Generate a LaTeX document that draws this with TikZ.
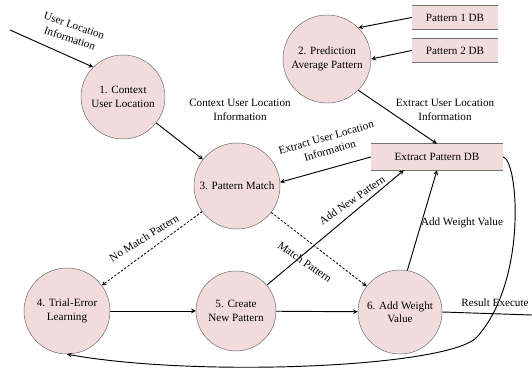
\documentclass[tikz,border=0pt]{standalone}
\usepackage{fontspec}
\setmainfont{Liberation Serif}
\usetikzlibrary{calc}
\definecolor{procpink}{HTML}{F2DCDB}

\begin{document}
\begin{tikzpicture}[x=0.03cm, y=-0.03cm, font=\fontsize{9.5}{11.5}\selectfont,
  proc/.style={circle, draw=black!60, thin, fill=procpink, align=center,
    inner sep=1pt, minimum size=2.52cm},
  store/.style={rectangle, fill=procpink, inner sep=2pt, minimum height=0.69cm},
  flow/.style={-stealth, line width=0.8pt},
  maybe/.style={-stealth, line width=0.7pt, dash pattern=on 2pt off 1.5pt},
  lbl/.style={align=center, inner sep=1pt}]
\useasboundingbox (0,0) rectangle (532,371);

% processes
\node [proc] (c1) at (123,97) {1. Context\\User Location};
\node [proc, minimum size=2.64cm] (c2) at (327,59) {2. Prediction\\Average Pattern};
\node [proc, minimum size=2.58cm] (c3) at (237,186) {3. Pattern Match};
\node [proc, minimum size=2.58cm] (c4) at (67,311) {4. Trial-Error\\Learning};
\node [proc, minimum size=2.4cm] (c5) at (236,311) {5. Create\\New Pattern};
\node [proc] (c6) at (400,312) {6. Add Weight\\Value};

% data stores
\node [store, minimum width=2.58cm] (p1) at (455,17.5) {Pattern 1 DB};
\node [store, minimum width=2.58cm] (p2) at (455,50.5) {Pattern 2 DB};
\node [store, minimum width=3.96cm, minimum height=0.78cm] (epdb) at (437,157) {Extract Pattern DB};
\foreach \s in {p1,p2,epdb}
  \draw [black!55, line width=0.8pt] (\s.north west) -- (\s.north east)
    (\s.south west) -- (\s.south east);

\coordinate (src) at (10,30);
\coordinate (res) at (532,315);

% flows
\draw [flow] (src) -- (c1.135);
\draw [flow] (c1) -- (c3);
\draw [flow] (p1.west) -- (c2.45);
\draw [flow] (p2.west) -- (c2.east);
\draw [flow] (c2.-45) -- (epdb.north);
\draw [flow] (epdb.west) -- (c3.5);
\draw [maybe] (c3) -- (c4);
\draw [maybe] (c3) -- (c6);
\draw [flow] (c4) -- (c5);
\draw [flow] (c5) -- (c6);
\draw [flow] (c5) -- ($(epdb.south)!0.5!(epdb.south west)$);
\draw [flow] (c6.80) -- (epdb.south);
\draw [line width=0.8pt] (c6.east) -- (res);
\draw [flow] (epdb.east) .. controls (518,160) and (528,280) .. (477,337)
  .. controls (450,367) and (200,378) .. (c4.south);

% labels
\node [lbl, rotate=-19] (l1) at (72,32) {User Location\\Information};
\node [lbl] (l2) at (240,110) {Context User Location\\Information};
\node [lbl] (l3) at (445,110) {Extract User Location\\Information};
\node [lbl, rotate=16] (l4) at (328,144) {Extract User Location\\Information};
\node [lbl, rotate=32] (l5) at (144,238) {No Match Pattern};
\node [lbl, rotate=-35] (l6) at (305,262) {Match Pattern};
\node [lbl, rotate=35] (l7) at (352,200) {Add New Pattern};
\node [lbl] (l8) at (462,223) {Add Weight Value};
\node [lbl] (l9) at (495,303) {Result Execute};
\end{tikzpicture}
\end{document}
